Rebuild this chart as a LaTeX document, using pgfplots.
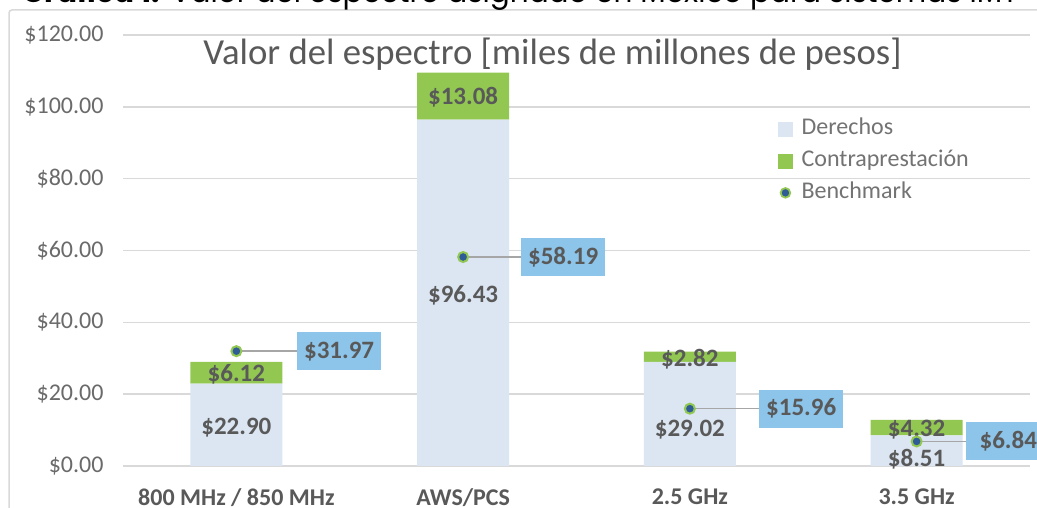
\documentclass[border=0pt]{standalone}
\usepackage{fontspec}
\setmainfont{Carlito}
\newfontfamily\titlefont{Poppins}
\usepackage{graphicx}
\usepackage{pgfplots}
\pgfplotsset{compat=1.18}

\definecolor{dere}{HTML}{DCE6F2}
\definecolor{contra}{HTML}{92C851}
\definecolor{boxblue}{HTML}{8CC4EA}
\definecolor{bmblue}{HTML}{2F5B97}
\definecolor{gridgray}{HTML}{D9D9D9}
\definecolor{labgray}{HTML}{595959}
\definecolor{tickgray}{HTML}{6A6A6A}
\definecolor{leggray}{HTML}{737373}
\definecolor{connector}{HTML}{A6A6A6}

\begin{document}
\begin{tikzpicture}[
  lab/.style={font=\bfseries\fontsize{25}{30}\selectfont, text=labgray, inner sep=0pt},
  bbox/.style={fill=boxblue, minimum width=84pt, minimum height=38pt, inner sep=0pt,
    font=\bfseries\fontsize{25}{30}\selectfont, text=labgray, anchor=west}]
\path[use as bounding box] (0pt,0pt) rectangle (1037pt,508pt);
\fill[white] (0pt,0pt) rectangle (1037pt,508pt);
\draw[gridgray, line width=1.5pt, rounded corners=3pt] (9pt,-5pt) -- (9pt,498pt) -- (1045pt,498pt);
\node[anchor=base west, inner sep=0pt] at (22pt,505pt) {\resizebox{996pt}{!}{\titlefont\textbf{Gráfica 1:} Valor del espectro asignado en México para sistemas IMT}};
\node[font=\fontsize{36.7}{42}\selectfont, text=labgray, anchor=base, inner sep=0pt]
  at (552.5pt, 443pt) {Valor del espectro [miles de millones de pesos]};

\begin{axis}[
  at={(123pt,42pt)}, anchor=south west,
  width=907pt, height=431pt, scale only axis,
  xmin=-0.5, xmax=3.5, ymin=0, ymax=120,
  ybar stacked, bar width=0.406,
  ytick={0,20,40,60,80,100,120},
  yticklabels={\$0.00,\$20.00,\$40.00,\$60.00,\$80.00,\$100.00,\$120.00},
  xtick={0,1,2,3},
  xticklabels={800 MHz / 850 MHz, AWS/PCS, 2.5 GHz, 3.5 GHz},
  ymajorgrids, grid style={gridgray, line width=1.5pt},
  axis line style={draw=none}, major tick style={draw=none},
  yticklabel style={font=\fontsize{24}{28}\selectfont, text=tickgray, xshift=-16pt},
  xticklabel style={font=\bfseries\fontsize{24}{28}\selectfont, text=labgray, yshift=-19pt},
  clip=false,
]
\addplot[fill=dere, draw=none] coordinates {(0,22.90) (1,96.43) (2,29.02) (3,8.51)};
\addplot[fill=contra, draw=none] coordinates {(0,6.12) (1,13.08) (2,2.82) (3,4.32)};
\end{axis}

\begin{axis}[
  at={(123pt,42pt)}, anchor=south west,
  width=907pt, height=431pt, scale only axis,
  xmin=-0.5, xmax=3.5, ymin=0, ymax=120,
  hide axis, clip=false,
  legend style={at={(0.7222,0.807)}, anchor=north west, draw=none, fill=none,
    inner sep=0pt, font=\fontsize{24}{28}\selectfont, text=leggray,
    nodes={inner ysep=0pt, inner xsep=9pt, text height=16pt, text depth=5pt},
    row sep=11pt},
  legend cell align=left,
]
\addlegendimage{legend image code/.code={\fill[dere] (0pt,-7pt) rectangle (14pt,7pt);}}
\addlegendentry{Derechos}
\addlegendimage{legend image code/.code={\fill[contra] (0pt,-7pt) rectangle (14pt,7pt);}}
\addlegendentry{Contraprestación}
\addlegendimage{legend image code/.code={\draw[fill=bmblue, draw=contra, line width=1.8pt] (7pt,0pt) circle (4.8pt);}}
\addlegendentry{Benchmark}

\addplot[connector, line width=1.5pt, forget plot] coordinates {(0,31.97) (0.27,31.97)};
\addplot[connector, line width=1.5pt, forget plot] coordinates {(1,58.19) (1.26,58.19)};
\addplot[connector, line width=1.5pt, forget plot] coordinates {(2,15.96) (2.31,15.96)};
\addplot[connector, line width=1.5pt, forget plot] coordinates {(3,6.84) (3.22,6.84)};
\addplot[only marks, mark=*, mark size=5pt, forget plot,
  mark options={fill=bmblue, draw=contra, line width=2pt}]
  coordinates {(0,31.97) (1,58.19) (2,15.96) (3,6.84)};

\node[bbox] at (axis cs:0.267,31.97) {\$31.97};
\node[bbox] at (axis cs:1.255,58.19) {\$58.19};
\node[bbox] at (axis cs:2.305,15.96) {\$15.96};
\node[bbox] at (axis cs:3.218,6.84) {\$6.84};

\node[lab] at (axis cs:0,10.8) {\$22.90};
\node[lab] at (axis cs:0,25.6) {\$6.12};
\node[lab] at (axis cs:1,47.6) {\$96.43};
\node[lab] at (axis cs:1,102.6) {\$13.08};
\node[lab] at (axis cs:2,10.0) {\$29.02};
\node[lab] at (axis cs:2,29.6) {\$2.82};
\node[lab] at (axis cs:3,10.0) {\$4.32};
\node[lab] at (axis cs:3,1.8) {\$8.51};
\end{axis}
\end{tikzpicture}
\end{document}
